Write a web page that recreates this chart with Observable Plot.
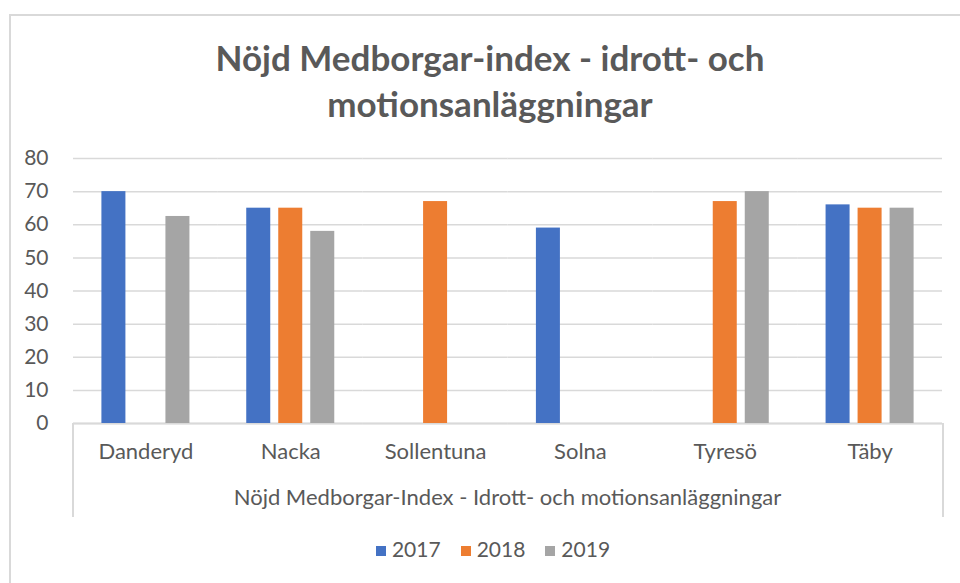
<!DOCTYPE html>
<html>
<head>
<meta charset="utf-8">
<script src="https://cdn.jsdelivr.net/npm/d3@7"></script>
<script src="https://cdn.jsdelivr.net/npm/@observablehq/plot@0.6"></script>
<style>
  html, body { margin: 0; padding: 0; background: #fff; }
  #wrap { position: relative; width: 960px; height: 583px; overflow: hidden; font-family: Lato, "Open Sans", sans-serif; color: #595959; }
  #border { position: absolute; left: 9px; top: 14px; width: 1000px; height: 1000px; border-left: 2px solid #d9d9d9; border-top: 2px solid #d9d9d9; }
  #title { position: absolute; left: 10px; top: 34px; width: 960px; text-align: center; font-weight: 700; font-size: 35px; line-height: 46px; color: #595959; }
  #chart { position: absolute; left: 0; top: 140px; }
  #box { position: absolute; left: 72px; top: 423px; width: 868px; height: 94px; border-left: 2px solid #d9d9d9; border-right: 2px solid #d9d9d9; }
  #xtitle { position: absolute; left: 73px; width: 869px; top: 484px; text-align: center; font-size: 22px; line-height: 26px; }
  #legend { position: absolute; left: 13px; width: 960px; top: 536px; text-align: center; font-size: 21px; line-height: 26px; }
  #legend span.item { margin: 0 10px; white-space: nowrap; }
  #legend span.sw { display: inline-block; width: 10px; height: 10px; margin-right: 6px; vertical-align: 1px; }
</style>
</head>
<body>
<div id="wrap">
  <div id="border"></div>
  <div id="title">Nöjd Medborgar-index - idrott- och<br>motionsanläggningar</div>
  <div id="chart"></div>
  <div id="box"></div>
  <div id="xtitle">Nöjd Medborgar-Index - Idrott- och motionsanläggningar</div>
  <div id="legend"></div>
</div>
<script>
const cities = ["Danderyd", "Nacka", "Sollentuna", "Solna", "Tyresö", "Täby"];
const years = ["2017", "2018", "2019"];
const v2017 = [70, 65, null, 59, null, 66];
const v2018 = [null, 65, 67, null, 67, 65];
const v2019 = [62.5, 58, null, null, 70, 65];
const colors = ["#4472C4", "#ED7D31", "#A5A5A5"];
const yTicks = [0, 10, 20, 30, 40, 50, 60, 70, 80];

const series = [v2017, v2018, v2019];
const data = [];
cities.forEach((c, i) => {
  years.forEach((y, j) => {
    const v = series[j][i];
    if (v != null) data.push({city: c, year: y, value: v});
  });
});

const chart = Plot.plot({
  width: 960,
  height: 390,
  marginLeft: 73,
  marginRight: 18,
  marginTop: 18,
  marginBottom: 107,
  style: {fontFamily: "Lato, 'Open Sans', sans-serif", fontSize: "21px", color: "#595959", background: "transparent", overflow: "visible"},
  fx: {domain: cities, padding: 0, round: false},
  x: {domain: years, paddingInner: 0.25, paddingOuter: 0.8875, round: false, axis: null},
  y: {domain: [0, 80]},
  color: {domain: years, range: colors},
  marks: [
    Plot.gridY(yTicks, {stroke: "#d9d9d9", strokeOpacity: 1, strokeWidth: 1.5}),
    Plot.ruleY([0], {stroke: "#d9d9d9", strokeWidth: 2}),
    Plot.barY(data, {fx: "city", x: "year", y: "value", fill: "year"}),
    Plot.axisY(yTicks, {tickSize: 0, tickPadding: 25, fontSize: 21, label: null, tickFormat: d => String(d)}),
    Plot.axisFx({anchor: "bottom", tickSize: 0, tickPadding: 20, fontSize: 22, label: null})
  ]
});
document.getElementById("chart").appendChild(chart);

const legend = document.getElementById("legend");
years.forEach((y, j) => {
  const item = document.createElement("span");
  item.className = "item";
  const sw = document.createElement("span");
  sw.className = "sw";
  sw.style.background = colors[j];
  item.appendChild(sw);
  item.appendChild(document.createTextNode(y));
  legend.appendChild(item);
});
</script>
</body>
</html>
